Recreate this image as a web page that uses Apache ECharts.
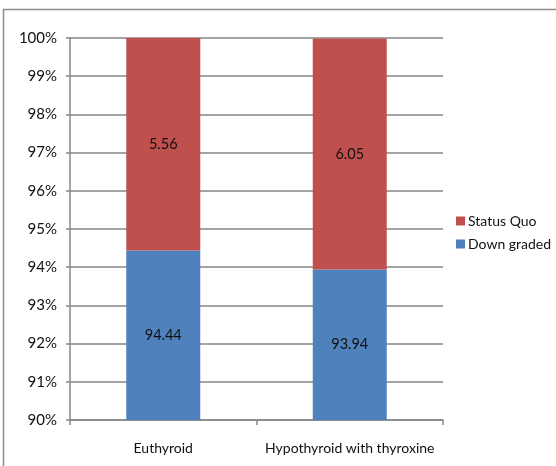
<!DOCTYPE html>
<html>
<head>
<meta charset="utf-8">
<script src="https://cdn.jsdelivr.net/npm/echarts@6/dist/echarts.min.js"></script>
<style>
  html, body { margin: 0; padding: 0; background: #fff; }
  #chart { width: 556px; height: 466px; }
</style>
</head>
<body>
<div id="chart"></div>
<script>
// Thyroid status groups and outcome percentages
const categories = ['Euthyroid', 'Hypothyroid with thyroxine'];
const downGraded = [94.44, 93.94];
const statusQuo = [5.56, 6.05];
const legendOrder = ['Status Quo', 'Down graded'];

const FONT = 'Lato, "Open Sans", sans-serif';

const chart = echarts.init(document.getElementById('chart'), null, { renderer: 'canvas' });

const valueLabel = {
  show: true,
  position: 'inside',
  color: '#111',
  fontFamily: FONT,
  fontSize: 14.5,
  formatter: p => p.value.toFixed(2)
};

chart.setOption({
  animation: false,
  backgroundColor: '#fff',
  textStyle: { fontFamily: FONT },
  graphic: [{
    type: 'rect',
    shape: { x: 3.5, y: 9.5, width: 600, height: 500 },
    style: { fill: 'none', stroke: '#8c8c8c', lineWidth: 1.5 },
    silent: true
  }],
  grid: { left: 70, top: 38, width: 373, height: 382, containLabel: false },
  legend: {
    data: legendOrder,
    orient: 'vertical',
    left: 451,
    top: 209,
    itemWidth: 9,
    itemHeight: 9,
    itemGap: 9,
    icon: 'rect',
    textStyle: { fontFamily: FONT, fontSize: 14, color: '#111', padding: [0, 0, 0, -2] }
  },
  xAxis: {
    type: 'category',
    data: categories,
    axisLine: { lineStyle: { color: '#868686', width: 1.5 } },
    axisTick: { show: true, length: 5, lineStyle: { color: '#868686', width: 1.5 } },
    axisLabel: { fontFamily: FONT, fontSize: 14, color: '#111', margin: 21, interval: 0 }
  },
  yAxis: {
    type: 'value',
    min: 90,
    max: 100,
    interval: 1,
    axisLine: { show: true, lineStyle: { color: '#868686', width: 1.5 } },
    axisTick: { show: true, length: 4, lineStyle: { color: '#868686', width: 1.5 } },
    splitLine: { lineStyle: { color: '#868686', width: 1.5 } },
    axisLabel: { fontFamily: FONT, fontSize: 15, color: '#111', margin: 13, formatter: '{value}%' }
  },
  series: [
    {
      name: 'Down graded',
      type: 'bar',
      stack: 'total',
      barWidth: 74,
      data: downGraded,
      itemStyle: { color: '#4F81BD' },
      label: valueLabel
    },
    {
      name: 'Status Quo',
      type: 'bar',
      stack: 'total',
      barWidth: 74,
      data: statusQuo,
      itemStyle: { color: '#C0504D' },
      label: valueLabel
    }
  ]
});
</script>
</body>
</html>
